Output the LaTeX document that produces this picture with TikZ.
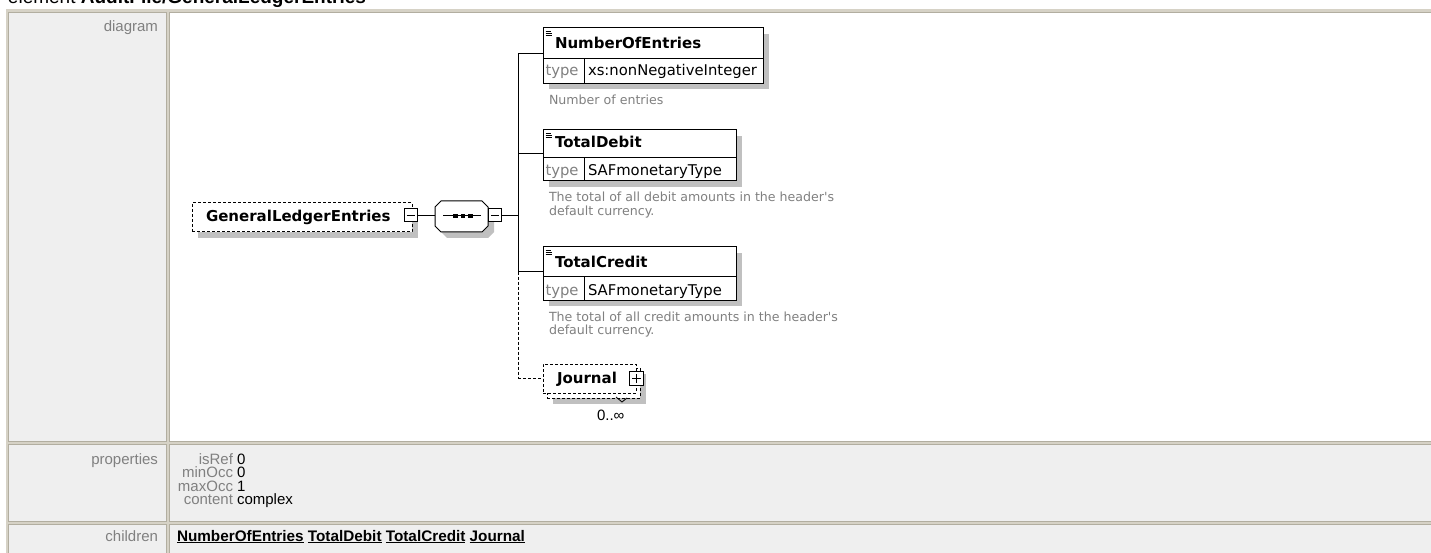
\documentclass[tikz,border=0pt]{standalone}
\usepackage{fontspec}
\setmainfont{Liberation Sans}
\newfontfamily\dvs{DejaVu Sans}
\definecolor{tblbord}{RGB}{214,210,198}
\definecolor{cellline}{RGB}{178,174,160}
\definecolor{cellbg}{RGB}{239,239,239}
\definecolor{labgray}{RGB}{128,128,128}
\definecolor{shd}{RGB}{192,192,192}
\definecolor{descgray}{RGB}{128,128,128}
\begin{document}
\begin{tikzpicture}[x=1pt,y=-1pt,line width=1pt,
  every node/.style={inner sep=0pt,outer sep=0pt},
  lab/.style={font=\fontsize{15}{15}\selectfont,text=labgray},
  val/.style={font=\fontsize{15}{15}\selectfont,text=black},
  ttl/.style={font=\dvs\bfseries\fontsize{15}{15}\selectfont,anchor=base west},
  typl/.style={font=\dvs\fontsize{14.8}{15}\selectfont,text=labgray,anchor=base west},
  typv/.style={font=\dvs\fontsize{14.8}{15}\selectfont,anchor=base west},
  desc/.style={font=\dvs\fontsize{12.6}{14}\selectfont,text=descgray,anchor=base west},
  elbox/.style={draw=black,fill=white,line width=1pt},
  optbox/.style={elbox,dash pattern=on 3pt off 2pt},
  pmbox/.style={draw=black,fill=white,line width=1pt,minimum width=13pt,minimum height=13pt},
  conn/.style={draw=black,line width=1pt},
  optconn/.style={conn,dash pattern=on 3pt off 2pt}
]
\useasboundingbox (0,0) rectangle (1431,553);
\clip (0,0) rectangle (1431,553);

% ---------------- table ----------------
\fill[tblbord] (6,9) rectangle (1440,560);
\filldraw[fill=cellbg,draw=cellline] (8.5,12.5) rectangle (166.5,441.5);
\filldraw[fill=white,draw=cellline] (169.5,12.5) rectangle (1440,441.5);
\filldraw[fill=cellbg,draw=cellline] (8.5,444.5) rectangle (166.5,521.5);
\filldraw[fill=cellbg,draw=cellline] (169.5,444.5) rectangle (1440,521.5);
\filldraw[fill=cellbg,draw=cellline] (8.5,524.5) rectangle (166.5,560);
\filldraw[fill=cellbg,draw=cellline] (169.5,524.5) rectangle (1440,560);

\node[anchor=base west,font=\fontsize{19}{19}\selectfont] (title) at (8,4) {element \textbf{AuditFile/GeneralLedgerEntries}};

\node[lab,anchor=base east] (ldiag) at (158,32) {diagram};
\node[lab,anchor=base east] (lprop) at (158,464) {properties};
\node[lab,anchor=base east] (lchild) at (158,541) {children};

\node[lab,anchor=base east] (p1) at (233,464) {isRef};
\node[val,anchor=base west] (v1) at (237,464) {0};
\node[lab,anchor=base east] (p2) at (233,477.5) {minOcc};
\node[val,anchor=base west] (v2) at (237,477.5) {0};
\node[lab,anchor=base east] (p3) at (233,491) {maxOcc};
\node[val,anchor=base west] (v3) at (237,491) {1};
\node[lab,anchor=base east] (p4) at (233,504.5) {content};
\node[val,anchor=base west] (v4) at (237,504.5) {complex};

\node[anchor=base west,font=\bfseries\fontsize{15.3}{15}\selectfont] (kids) at (177,541)
  {\underline{NumberOfEntries} \underline{TotalDebit} \underline{TotalCredit} \underline{Journal}};

% ---------------- diagram ----------------
% root element
\fill[shd] (198,209) rectangle (418,238);
\node[optbox,minimum width=220pt,minimum height=29pt,anchor=north west] (gle) at (192,203) {};
\node[ttl] (gletxt) at (206,222) {GeneralLedgerEntries};
\node[pmbox] (glem) at (410.5,215.5) {};
\draw ([xshift=2.5pt]glem.west) -- ([xshift=-2.5pt]glem.east);

% sequence compositor
\fill[shd] (447,207) -- (488,207) -- (494,213) -- (494,232) -- (488,238) -- (447,238) -- (441,232) -- (441,213) -- cycle;
\filldraw[fill=white,draw=black] (441,201) -- (482,201) -- (488,207) -- (488,226) -- (482,232) -- (441,232) -- (435,226) -- (435,207) -- cycle;
\coordinate (seqW) at (435,215.5);
\coordinate (seqE) at (488,215.5);
\draw (443,216) -- (481,216);
\fill (453,214) rectangle (457.5,218);
\fill (460.5,214) rectangle (465,218);
\fill (468,214) rectangle (472.5,218);
\node[pmbox] (seqm) at (495,215.5) {};
\draw ([xshift=2.5pt]seqm.west) -- ([xshift=-2.5pt]seqm.east);

\draw[conn] (glem.east) -- (seqW);

% trunk
\coordinate (trk) at (518,215.5);
\coordinate (t1) at (518,53.5);
\coordinate (t2) at (518,153.5);
\coordinate (t3) at (518,271.5);
\coordinate (t4) at (518,378.5);
\draw[conn] (seqm.east) -- (trk);
\draw[conn] (t1) -- (t3);
\draw[optconn] (t3) -- (t4);

% NumberOfEntries
\fill[shd] (549,34) rectangle (769,89.5);
\node[elbox,minimum width=220pt,minimum height=55.5pt,anchor=north west] (noe) at (543,28) {};
\draw (543,59) -- (763,59);
\draw (584,59) -- (584,83.5);
\draw[line width=0.8pt] (545.5,31.5) -- (551,31.5) (545.5,33.5) -- (552,33.5) (545.5,35.5) -- (552,35.5);
\node[ttl] (noet) at (555,48.5) {NumberOfEntries};
\node[typl] (noel) at (545.5,76) {type};
\node[typv] (noev) at (588,76) {xs:nonNegativeInteger};
\node[desc] (noed) at (549,105) {Number of entries};
\draw[conn] (t1) -- (t1 -| noe.west);

% TotalDebit
\fill[shd] (549,136) rectangle (742,187);
\node[elbox,minimum width=193pt,minimum height=51pt,anchor=north west] (tdb) at (543,130) {};
\draw (543,158) -- (736,158);
\draw (584,158) -- (584,181);
\draw[line width=0.8pt] (545.5,133.5) -- (551,133.5) (545.5,135.5) -- (552,135.5) (545.5,137.5) -- (552,137.5);
\node[ttl] (tdbt) at (555,148) {TotalDebit};
\node[typl] (tdbl) at (545.5,176) {type};
\node[typv] (tdbv) at (588,176) {SAFmonetaryType};
\node[desc] (tdbd1) at (549,202) {The total of all debit amounts in the header's};
\node[desc] (tdbd2) at (549,216) {default currency.};
\draw[conn] (t2) -- (t2 -| tdb.west);

% TotalCredit
\fill[shd] (549,253) rectangle (742,306);
\node[elbox,minimum width=193pt,minimum height=53pt,anchor=north west] (tcr) at (543,247) {};
\draw (543,276) -- (736,276);
\draw (584,276) -- (584,300);
\draw[line width=0.8pt] (545.5,250.5) -- (551,250.5) (545.5,252.5) -- (552,252.5) (545.5,254.5) -- (552,254.5);
\node[ttl] (tcrt) at (555,267) {TotalCredit};
\node[typl] (tcrl) at (545.5,295) {type};
\node[typv] (tcrv) at (588,295) {SAFmonetaryType};
\node[desc] (tcrd1) at (549,321) {The total of all credit amounts in the header's};
\node[desc] (tcrd2) at (549,334) {default currency.};
\draw[conn] (t3) -- (t3 -| tcr.west);

% Journal (repeating, optional)
\fill[shd] (553,374) rectangle (646,404);
\node[optbox,minimum width=93pt,minimum height=30pt,anchor=north west] (jb) at (547,368) {};
\node[optbox,minimum width=93pt,minimum height=29pt,anchor=north west] (jf) at (543,364) {};
\node[ttl] (jt) at (557,383) {Journal};
\node[pmbox,minimum width=14pt,minimum height=14pt] (jp) at (636.5,378.5) {};
\draw ([xshift=2.5pt]jp.west) -- ([xshift=-2.5pt]jp.east);
\draw ([yshift=-2.5pt]jp.north) -- ([yshift=2.5pt]jp.south);
\draw[line width=0.8pt] (616,397) -- (622,402) -- (627,398);
\node[anchor=base west,font=\fontsize{15}{15}\selectfont] (jocc) at (597,420) {0..∞};
\draw[optconn] (t4) -- (jf.west);
\end{tikzpicture}
\end{document}
